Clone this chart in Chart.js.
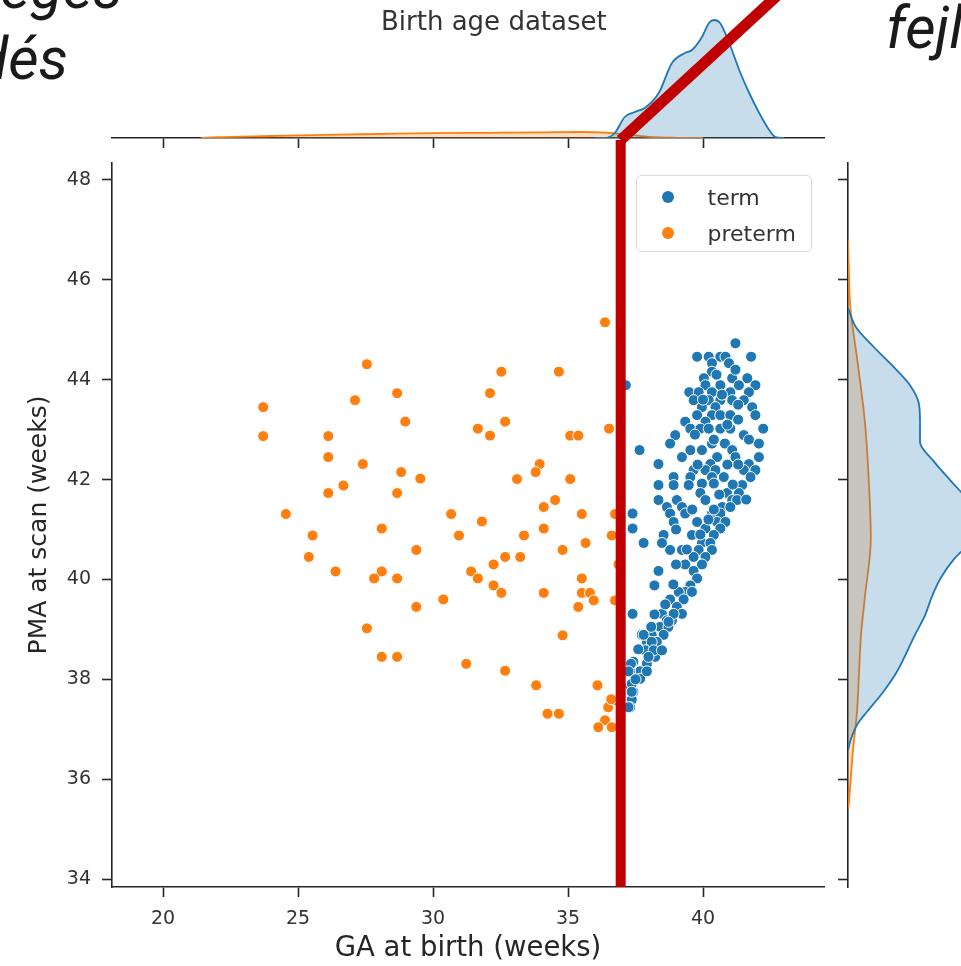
<!DOCTYPE html>
<html>
<head>
<meta charset="utf-8">
<script src="https://cdn.jsdelivr.net/npm/chart.js@4.4.1/dist/chart.umd.min.js"></script>
<style>
    html, body { margin: 0; padding: 0; background: #fff; overflow: hidden; }
    body { width: 961px; height: 966px; position: relative; }
    .box { position: absolute; }
    #topBox { left: 0; top: 0; width: 840px; height: 150px; }
    #mainBox { left: 0; top: 138px; width: 840px; height: 828px; }
    #rightBox { left: 830px; top: 138px; width: 200px; height: 828px; }
    .note {
        position: absolute; font-family: Roboto, sans-serif; font-style: italic;
        font-size: 59px; line-height: 59px; color: #1a1a1a; white-space: nowrap; z-index: 5;
    }
    #title {
        position: absolute; left: 381px; top: 8px; font-family: "DejaVu Sans", sans-serif;
        font-size: 26px; line-height: 26px; color: #333; white-space: nowrap; z-index: 4;
    }
    #legend {
        position: absolute; left: 636px; top: 175px; width: 176px; height: 77px;
        box-sizing: border-box; padding-top: 3px; border: 1.5px solid #d9d9d9; border-radius: 5px;
        background: rgba(255, 255, 255, 0.8); z-index: 3;
        font-family: "DejaVu Sans", sans-serif; font-size: 22px; color: #333;
    }
    #legend .item { display: flex; align-items: center; height: 36px; }
    #legend .dot { width: 12px; height: 12px; border-radius: 50%; margin-left: 24.5px; margin-right: 34px; }
</style>
</head>
<body>
<div class="note" style="left:0px; top:-42px;">eges</div>
<div class="note" style="left:-24px; top:29px;">dés</div>
<div class="note" style="left:886px; top:-2px;">fejl</div>
<div id="title">Birth age dataset</div>
<div class="box" id="topBox"><canvas id="topChart"></canvas></div>
<div class="box" id="rightBox"><canvas id="rightChart"></canvas></div>
<div class="box" id="mainBox"><canvas id="mainChart"></canvas></div>
<div id="legend"></div>
<script>
// ---- axes
const gaRange = [18.11, 44.48];
const pmaRange = [33.84, 48.34];
const gaTicks = [20, 25, 30, 35, 40];
const pmaTicks = [34, 36, 38, 40, 42, 44, 46, 48];

// ---- scatter: term (GA >= 37)
const termGA = [
    41.20, 39.78, 40.21, 40.64, 40.83, 41.78, 40.33, 40.96, 40.33, 40.03, 41.08, 41.64,
    37.14, 40.09, 40.64, 41.33, 41.94, 39.49, 39.84, 40.33, 41.01, 41.70, 39.65, 40.21,
    40.64, 41.08, 41.51, 39.96, 40.46, 41.82, 39.78, 40.33, 40.64, 41.01, 41.94, 39.34,
    40.09, 39.53, 39.90, 40.21, 40.64, 41.01, 42.23, 38.97, 41.51, 38.78, 40.33, 40.81,
    42.07, 37.65, 39.53, 39.96, 41.08, 39.22, 40.52, 41.20, 42.07, 38.35, 40.27, 41.70,
    39.65, 40.09, 40.46, 41.51, 41.94, 38.91, 39.53, 40.33, 40.77, 41.76, 38.35, 38.91,
    39.47, 39.96, 40.40, 41.45, 39.90, 40.89, 41.33, 38.35, 39.03, 40.09, 41.08, 41.26,
    38.66, 39.22, 40.71, 41.01, 38.78, 40.33, 40.64, 37.39, 39.34, 38.91, 39.78, 40.52,
    40.83, 37.39, 40.09, 40.64, 38.54, 39.59, 40.40, 37.80, 38.48, 39.96, 40.27, 38.78,
    39.22, 39.84, 40.33, 39.65, 40.09, 39.34, 39.96, 38.35, 39.65, 39.78, 38.20, 39.53,
    39.34, 39.10, 39.59, 38.78, 39.28, 39.03, 38.48, 37.39, 39.22, 38.66, 38.85, 38.10,
    38.41, 38.72, 37.73, 38.10, 38.54, 37.92, 38.29, 38.04, 38.29, 37.42, 37.92, 38.23,
    37.67, 37.30, 37.67, 37.30, 37.42, 37.36, 37.30, 37.80, 38.08, 38.91, 38.72, 38.10,
    37.86, 38.17, 38.48, 37.98, 37.33, 37.92, 37.24, 37.36, 37.36, 37.24,
    40.50, 41.20, 40.70, 41.30, 40.00, 40.90, 41.30, 39.70, 40.40, 41.70, 41.30, 40.90,
    39.80, 41.10, 40.60, 41.60, 40.40, 39.60, 40.20, 39.90, 39.40, 39.00, 38.90, 38.60,
    39.00, 38.20, 37.60, 37.50
];
const termPMA = [
    44.73, 44.46, 44.46, 44.46, 44.46, 44.46, 44.33, 44.33, 44.16, 44.03, 44.03, 44.03,
    43.89, 43.89, 43.89, 43.89, 43.89, 43.75, 43.75, 43.75, 43.75, 43.75, 43.59, 43.59,
    43.59, 43.59, 43.59, 43.45, 43.45, 43.45, 43.29, 43.29, 43.29, 43.29, 43.29, 43.16,
    43.16, 43.02, 43.02, 43.02, 43.02, 43.02, 43.02, 42.89, 42.89, 42.72, 42.72, 42.72,
    42.72, 42.59, 42.59, 42.59, 42.59, 42.45, 42.45, 42.45, 42.45, 42.31, 42.31, 42.31,
    42.19, 42.19, 42.19, 42.19, 42.19, 42.05, 42.05, 42.05, 42.05, 42.05, 41.89, 41.89,
    41.89, 41.92, 41.92, 41.89, 41.73, 41.73, 41.73, 41.59, 41.59, 41.59, 41.59, 41.59,
    41.45, 41.45, 41.45, 41.45, 41.32, 41.32, 41.32, 41.32, 41.32, 41.15, 41.15, 41.15,
    41.15, 41.02, 41.02, 41.02, 40.89, 40.89, 40.89, 40.73, 40.73, 40.73, 40.73, 40.59,
    40.59, 40.59, 40.59, 40.45, 40.45, 40.30, 40.30, 40.17, 40.17, 40.02, 39.88, 39.88,
    39.75, 39.75, 39.75, 39.60, 39.60, 39.45, 39.31, 39.31, 39.31, 39.18, 39.18, 39.05,
    39.05, 39.05, 38.89, 38.89, 38.89, 38.75, 38.75, 38.62, 38.55, 38.35, 38.31, 38.45,
    38.16, 38.16, 38.01, 37.88, 37.75, 37.59, 37.44, 38.89, 39.05, 39.31, 39.15, 38.75,
    38.58, 38.58, 38.58, 38.45, 38.31, 38.16, 38.16, 37.91, 37.75, 37.44,
    44.10, 44.20, 43.70, 43.50, 43.60, 43.10, 43.20, 42.90, 42.80, 42.80, 42.30, 42.30,
    42.30, 41.90, 41.70, 41.60, 41.40, 41.40, 41.20, 40.90, 40.60, 40.30, 39.90, 39.50,
    41.00, 39.30, 38.60, 38.00
];

// ---- scatter: preterm (GA < 37)
const pretermGA = [
    27.55, 28.67, 27.11, 23.71, 28.97, 23.71, 26.12, 26.12, 27.40, 28.82, 29.53, 26.68,
    26.12, 28.67, 24.55, 30.67, 28.10, 25.54, 30.96, 29.38, 25.40, 26.39, 28.10, 27.82,
    28.67, 31.41, 30.38, 29.38, 27.55, 28.10, 28.67, 31.23, 36.37, 32.53, 34.66, 32.11,
    32.67, 31.66, 32.11, 35.08, 35.38, 36.52, 33.95, 33.80, 33.11, 35.08, 34.52, 34.10,
    31.81, 35.51, 36.74, 33.37, 34.10, 36.62, 35.65, 34.80, 32.67, 33.23, 32.24, 31.66,
    32.24, 32.53, 34.10, 35.51, 35.51, 35.81, 35.95, 35.38, 36.74, 36.87, 34.80, 32.67,
    33.82, 36.09, 34.24, 34.66, 36.49, 36.74, 36.37, 36.12, 36.62, 36.60
];
const pretermPMA = [
    44.31, 43.73, 43.59, 43.45, 43.16, 42.87, 42.87, 42.45, 42.31, 42.15, 42.02, 41.88,
    41.73, 41.73, 41.31, 41.31, 41.02, 40.88, 40.88, 40.59, 40.45, 40.16, 40.16, 40.02,
    40.02, 40.16, 39.60, 39.45, 39.02, 38.45, 38.45, 38.31, 45.15, 44.16, 44.16, 43.73,
    43.16, 43.02, 42.88, 42.88, 42.88, 43.02, 42.31, 42.15, 42.01, 42.01, 41.59, 41.45,
    41.16, 41.31, 41.31, 40.88, 41.02, 40.88, 40.73, 40.59, 40.45, 40.45, 40.30, 40.02,
    39.88, 39.73, 39.73, 40.02, 39.73, 39.73, 39.58, 39.45, 39.58, 40.30, 38.88, 38.17,
    37.88, 37.88, 37.31, 37.31, 37.44, 37.58, 37.18, 37.04, 37.04, 37.60
];

// ---- marginal KDE along GA (top)
const topTermGA = [36.0, 36.36, 36.73, 37.10, 37.47, 37.84, 38.36, 38.85, 39.33, 39.59, 39.96,
    40.22, 40.41, 40.63, 40.97, 41.34, 41.71, 42.08, 42.45, 42.68, 43.0];
const topTermDensity = [0, 0, 0.0125, 0.0525, 0.065, 0.075, 0.1125, 0.1875, 0.2125, 0.22, 0.2525,
    0.2875, 0.295, 0.2875, 0.2375, 0.17, 0.1125, 0.0625, 0.02, 0.0025, 0];
const topPretermGA = [21.4, 22.0, 24.0, 26.0, 28.0, 30.0, 32.0, 34.0, 35.5, 36.5, 37.3, 38.0, 39.0, 40.0];
const topPretermDensity = [0, 0.002, 0.005, 0.008, 0.010, 0.012, 0.013, 0.014, 0.015, 0.013, 0.008, 0.003, 0.0005, 0];

// ---- marginal KDE along PMA (right)
const rightTermPMA = [36.58, 36.81, 37.12, 37.35, 37.74, 38.12, 38.89, 39.28, 39.66, 40.04, 40.43,
    40.82, 41.21, 41.59, 41.97, 42.36, 42.75, 43.13, 43.51, 43.89, 44.29, 44.67, 45.05, 45.44];
const rightTermDensity = [0, 0.0075, 0.025, 0.0475, 0.0875, 0.12, 0.1675, 0.1925, 0.21, 0.2325, 0.2675,
    0.315, 0.3325, 0.30, 0.2575, 0.215, 0.18, 0.18, 0.1775, 0.155, 0.11, 0.0625, 0.02, 0];
const rightPretermPMA = [35.42, 35.81, 36.58, 37.35, 38.12, 38.89, 39.66, 40.82, 41.97, 43.13, 44.29, 45.44, 46.2, 46.8];
const rightPretermDensity = [0.001, 0.005, 0.0125, 0.0225, 0.0275, 0.0325, 0.0425, 0.057, 0.052, 0.0425, 0.025, 0.006, 0.002, 0];

// ---- 37-week cut-off drawn over the figure
const cutoffGA = 36.95;
const cutoffTop = 48.8;
const cutoffDiagonal = [{ x: 36.95, y: -0.005 }, { x: 44.0, y: 0.434 }];

const colors = {
    term: '#1f77b4',
    preterm: '#ff7f0e',
    termFill: 'rgba(31, 119, 180, 0.25)',
    pretermFill: 'rgba(255, 127, 14, 0.25)',
    cutoff: '#c00000',
    ink: '#262626',
};
const font = '"DejaVu Sans", sans-serif';

function zip(xs, ys) {
    return xs.map((x, i) => ({ x, y: ys[i] }));
}

function fixedTicks(values) {
    return function (scale) {
        scale.ticks = values.map(v => ({ value: v }));
    };
}

function axisLine() {
    return {
        grid: { drawOnChartArea: false, drawTicks: true, tickLength: 10, tickWidth: 1.6, tickColor: colors.ink },
        border: { display: true, color: colors.ink, width: 1.6 },
    };
}

function kde(data, line, fill, order) {
    return {
        data,
        borderColor: line,
        backgroundColor: fill,
        borderWidth: 1.8,
        fill: 'origin',
        pointRadius: 0,
        cubicInterpolationMode: 'monotone',
        order,
    };
}

const htmlLegend = {
    id: 'htmlLegend',
    afterUpdate(chart) {
        const box = document.getElementById('legend');
        box.innerHTML = '';
        chart.data.datasets.filter(d => d.label).forEach(d => {
            const row = document.createElement('div');
            row.className = 'item';
            const dot = document.createElement('span');
            dot.className = 'dot';
            dot.style.background = d.backgroundColor;
            const txt = document.createElement('span');
            txt.textContent = d.label;
            row.append(dot, txt);
            box.append(row);
        });
    },
};

Chart.defaults.animation = false;
Chart.defaults.font.family = font;
Chart.defaults.plugins.legend.display = false;
Chart.defaults.plugins.tooltip.enabled = false;

new Chart(document.getElementById('mainChart'), {
    type: 'scatter',
    data: {
        datasets: [
            {
                label: 'term',
                data: zip(termGA, termPMA),
                backgroundColor: colors.term,
                borderColor: '#ffffff',
                borderWidth: 1,
                pointRadius: 5.5,
                order: 2,
            },
            {
                label: 'preterm',
                data: zip(pretermGA, pretermPMA),
                backgroundColor: colors.preterm,
                borderColor: '#ffffff',
                borderWidth: 1,
                pointRadius: 5.5,
                order: 1,
            },
            {
                type: 'line',
                data: [{ x: cutoffGA, y: pmaRange[0] }, { x: cutoffGA, y: cutoffTop }],
                borderColor: colors.cutoff,
                borderWidth: 10,
                borderCapStyle: 'butt',
                showLine: true,
                pointRadius: 0,
                clip: false,
                order: 0,
            },
        ],
    },
    options: {
        responsive: true,
        maintainAspectRatio: false,
        layout: { padding: { top: 25, right: 16, left: 0, bottom: 0 } },
        scales: {
            x: {
                type: 'linear',
                min: gaRange[0],
                max: gaRange[1],
                afterBuildTicks: fixedTicks(gaTicks),
                afterFit: s => { s.height = 79; },
                ...axisLine(),
                ticks: { font: { size: 19 }, color: '#333', padding: 11 },
                title: { display: true, text: 'GA at birth (weeks)', font: { size: 27.5 }, color: colors.ink, padding: { top: 4, bottom: 1 } },
            },
            y: {
                type: 'linear',
                min: pmaRange[0],
                max: pmaRange[1],
                afterBuildTicks: fixedTicks(pmaTicks),
                afterFit: s => { s.width = 112; },
                ...axisLine(),
                ticks: { font: { size: 19 }, color: '#333', padding: 11 },
                title: { display: true, text: 'PMA at scan (weeks)', font: { size: 25 }, color: colors.ink, padding: { top: 24, bottom: 0 } },
            },
        },
    },
    plugins: [htmlLegend],
});

new Chart(document.getElementById('topChart'), {
    type: 'line',
    data: {
        datasets: [
            kde(zip(topTermGA, topTermDensity), colors.term, colors.termFill, 1),
            kde(zip(topPretermGA, topPretermDensity), colors.preterm, colors.pretermFill, 2),
            {
                data: cutoffDiagonal,
                borderColor: colors.cutoff,
                borderWidth: 11,
                borderCapStyle: 'butt',
                pointRadius: 0,
                clip: false,
                order: 0,
            },
        ],
    },
    options: {
        responsive: true,
        maintainAspectRatio: false,
        layout: { padding: { top: 0, right: 16, left: 112, bottom: 0 } },
        scales: {
            x: {
                type: 'linear',
                min: gaRange[0],
                max: gaRange[1],
                afterBuildTicks: fixedTicks(gaTicks),
                afterFit: s => { s.height = 12; },
                ...axisLine(),
                ticks: { display: false },
            },
            y: { type: 'linear', min: 0, max: 0.345, display: false },
        },
    },
});

new Chart(document.getElementById('rightChart'), {
    type: 'line',
    data: {
        datasets: [
            kde(zip(rightTermDensity, rightTermPMA), colors.term, colors.termFill, 1),
            kde(zip(rightPretermDensity, rightPretermPMA), colors.preterm, colors.pretermFill, 2),
        ],
    },
    options: {
        indexAxis: 'y',
        responsive: true,
        maintainAspectRatio: false,
        layout: { padding: { top: 25, right: 0, left: 0, bottom: 79 } },
        scales: {
            x: { type: 'linear', min: 0, max: 0.455, display: false },
            y: {
                type: 'linear',
                min: pmaRange[0],
                max: pmaRange[1],
                afterBuildTicks: fixedTicks(pmaTicks),
                afterFit: s => { s.width = 18; },
                ...axisLine(),
                ticks: { display: false },
            },
        },
    },
});
</script>
</body>
</html>
